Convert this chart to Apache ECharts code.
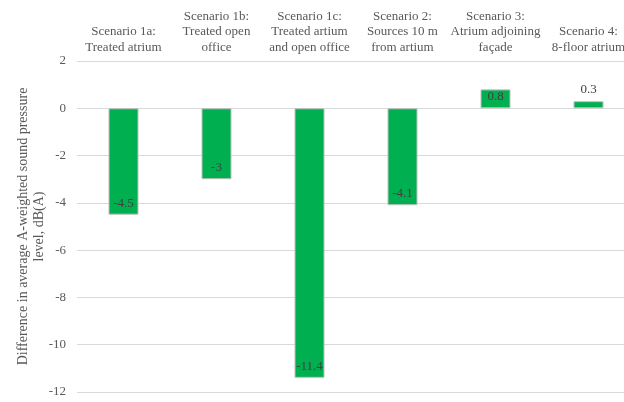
<!DOCTYPE html>
<html>
<head>
<meta charset="utf-8">
<script src="https://cdn.jsdelivr.net/npm/echarts@6/dist/echarts.min.js"></script>
<style>html,body{margin:0;padding:0;background:#fff}#c{width:624px;height:402px}</style>
</head>
<body>
<div id="c"></div>
<script>
const categories = [
  "Scenario 1a:\nTreated atrium",
  "Scenario 1b:\nTreated open\noffice",
  "Scenario 1c:\nTreated artium\nand open office",
  "Scenario 2:\nSources 10 m\nfrom artium",
  "Scenario 3:\nAtrium adjoining\nfaçade",
  "Scenario 4:\n8-floor atrium"
];
const values = [-4.5, -3, -11.4, -4.1, 0.8, 0.3];
const yTicks = { min: -12, max: 2, interval: 2 };
const yName = "Difference in average A-weighted sound pressure\nlevel, dB(A)";

const font = "'Liberation Serif', 'Times New Roman', serif";
const chart = echarts.init(document.getElementById('c'), null, { renderer: 'canvas' });
chart.setOption({
  animation: false,
  backgroundColor: '#fff',
  grid: { left: 77, top: 61, bottom: 10, right: -11, containLabel: false, outerBoundsMode: 'none' },
  xAxis: {
    type: 'category',
    position: 'top',
    data: categories,
    axisLine: { show: false },
    axisTick: { show: false },
    axisLabel: { interval: 0, margin: 6, fontFamily: font, fontSize: 13, lineHeight: 15.5, color: '#595959' }
  },
  yAxis: {
    type: 'value',
    min: yTicks.min, max: yTicks.max, interval: yTicks.interval,
    name: yName,
    nameLocation: 'middle',
    nameGap: 30,
    nameMoveOverlap: false,
    nameTextStyle: { fontFamily: font, fontSize: 14, lineHeight: 16, color: '#595959' },
    axisLine: { show: false },
    axisTick: { show: false },
    axisLabel: { fontFamily: font, fontSize: 13, color: '#595959', margin: 11 },
    splitLine: { lineStyle: { color: '#d9d9d9', width: 1 } }
  },
  series: [{
    type: 'bar',
    barWidth: 30,
    data: values.map(v => ({
      value: v,
      label: { position: v < 0 ? 'insideBottom' : (v > 0.5 ? 'insideTop' : 'top'), distance: v > 0.5 ? 1 : 5 }
    })),
    itemStyle: { color: '#00B050', borderColor: '#bfbfbf', borderWidth: 1 },
    label: { show: true, fontFamily: font, fontSize: 13, color: '#404040' }
  }]
});
</script>
</body>
</html>
